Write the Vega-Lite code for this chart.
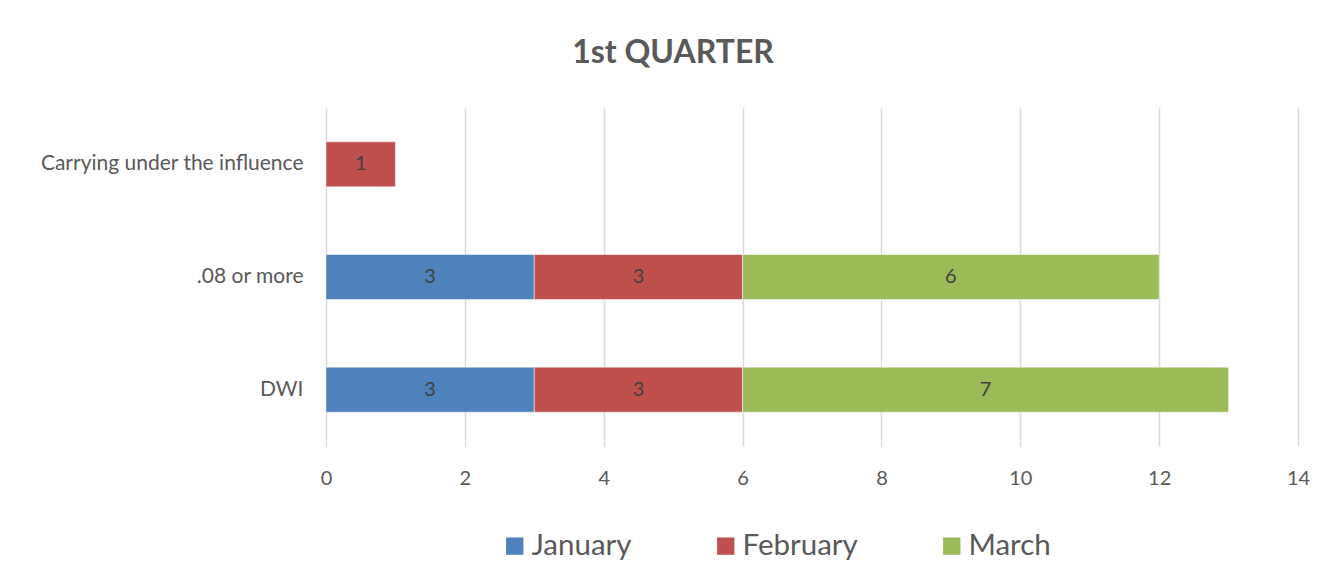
{
  "$schema": "https://vega.github.io/schema/vega-lite/v6.json",
  "autosize": {"type": "none"},
  "width": 972,
  "height": 338,
  "padding": {"left": 326, "top": 108, "right": 42, "bottom": 130},
  "background": "white",
  "title": {
    "text": "1st QUARTER",
    "anchor": "middle",
    "frame": "group",
    "dx": -139,
    "offset": 38,
    "font": "Lato",
    "fontSize": 32,
    "fontWeight": "bold",
    "color": "#595959"
  },
  "data": {
    "values": [
      {"category": "Carrying under the influence", "month": "February", "m": 2, "count": 1},
      {"category": ".08 or more", "month": "January", "m": 1, "count": 3},
      {"category": ".08 or more", "month": "February", "m": 2, "count": 3},
      {"category": ".08 or more", "month": "March", "m": 3, "count": 6},
      {"category": "DWI", "month": "January", "m": 1, "count": 3},
      {"category": "DWI", "month": "February", "m": 2, "count": 3},
      {"category": "DWI", "month": "March", "m": 3, "count": 7}
    ]
  },
  "transform": [
    {"stack": "count", "groupby": ["category"], "sort": [{"field": "m", "order": "ascending"}], "as": ["x0", "x1"]},
    {"calculate": "(datum.x0 + datum.x1) / 2", "as": "mid"}
  ],
  "encoding": {
    "y": {
      "field": "category",
      "type": "nominal",
      "sort": ["Carrying under the influence", ".08 or more", "DWI"],
      "scale": {"paddingInner": 0.6, "paddingOuter": 0.3},
      "axis": {
        "title": null,
        "domain": false,
        "ticks": false,
        "labelPadding": 23,
        "labelLimit": 400,
        "labelFont": "Lato",
        "labelFontSize": 21,
        "labelColor": "#595959"
      }
    }
  },
  "layer": [
    {
      "mark": {"type": "bar", "stroke": "#ffffff", "strokeWidth": 1, "strokeOpacity": 0.5},
      "encoding": {
        "x": {
          "field": "x0",
          "type": "quantitative",
          "scale": {"domain": [0, 14], "nice": false},
          "axis": {
            "title": null,
            "values": [0, 2, 4, 6, 8, 10, 12, 14],
            "format": "d",
            "domain": false,
            "ticks": false,
            "grid": true,
            "gridColor": "#d9d9d9",
            "gridWidth": 1.5,
            "labelPadding": 22,
            "labelFont": "Lato",
            "labelFontSize": 20,
            "labelColor": "#595959",
            "labelFlush": false
          }
        },
        "x2": {"field": "x1"},
        "color": {
          "field": "month",
          "type": "nominal",
          "scale": {
            "domain": ["January", "February", "March"],
            "range": ["#4F81BD", "#C0504D", "#9BBB59"]
          },
          "legend": {
            "title": null,
            "orient": "none",
            "direction": "horizontal",
            "legendX": 174,
            "legendY": 423,
            "symbolType": "square",
            "symbolSize": 300,
            "symbolStrokeWidth": 0,
            "symbolOpacity": 1,
            "labelFont": "Lato",
            "labelFontSize": 29.5,
            "labelColor": "#595959",
            "labelOffset": 2,
            "columnPadding": 79
          }
        }
      }
    },
    {
      "mark": {"type": "text", "font": "Lato", "fontSize": 20, "color": "#404040", "baseline": "middle", "align": "center"},
      "encoding": {
        "x": {"field": "mid", "type": "quantitative"},
        "text": {"field": "count", "type": "quantitative"}
      }
    }
  ],
  "config": {
    "view": {"stroke": null}
  }
}
